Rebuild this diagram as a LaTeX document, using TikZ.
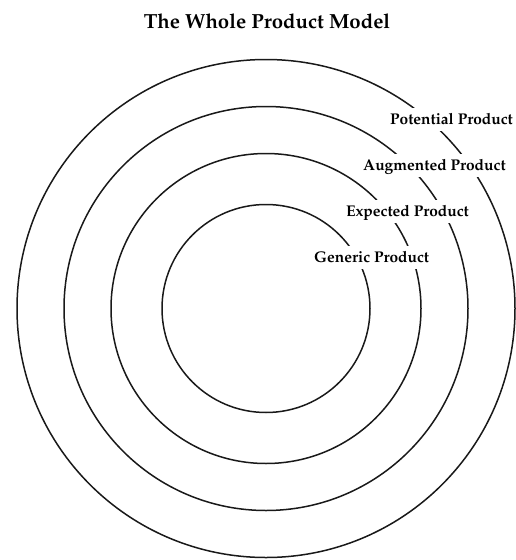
\documentclass[tikz,border=0pt]{standalone}
\usepackage[T1]{fontenc}
\renewcommand{\rmdefault}{ppl}
\tikzset{
  ring/.style={draw=black!90, line width=1.5pt, circle, inner sep=0pt},
  lbl/.style={fill=white, anchor=base west, inner xsep=3pt, inner ysep=5pt,
              text height=11pt, text depth=2pt,
              font=\fontsize{15.5}{18}\selectfont\bfseries},
  ttl/.style={anchor=base, inner sep=0pt, font=\fontsize{20.4}{24}\selectfont\bfseries}
}
\begin{document}
\begin{tikzpicture}[x=1pt,y=-1pt]
\useasboundingbox (0,0) rectangle (515,560);
\node[ttl] (title) at (267,28) {The Whole Product Model};
\node[ring, minimum size=498pt] (potentialring) at (266,308.5) {};
\node[ring, minimum size=404pt] (augmentedring) at (266,308.5) {};
\node[ring, minimum size=310pt] (expectedring) at (266,308.5) {};
\node[ring, minimum size=208pt] (genericring) at (266,308.5) {};
\node[lbl] (potential) at (387,124) {Potential Product};
\node[lbl] (augmented) at (360,170) {Augmented Product};
\node[lbl] (expected) at (343,216) {Expected Product};
\node[lbl] (generic) at (311,262) {Generic Product};
\end{tikzpicture}
\end{document}
